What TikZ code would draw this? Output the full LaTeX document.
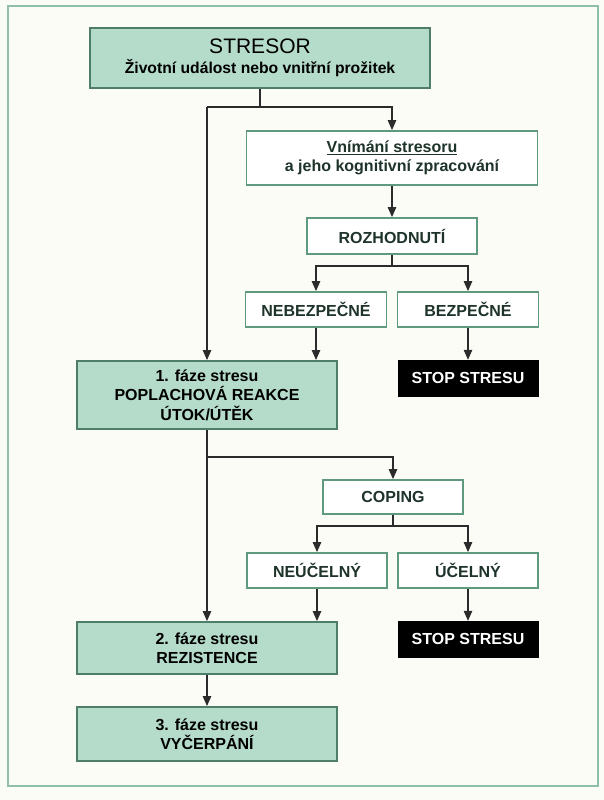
\documentclass[tikz,border=0pt]{standalone}
\usepackage{fontspec}
\setmainfont{Liberation Sans}
\usetikzlibrary{arrows.meta}

\definecolor{bgcol}{HTML}{FCFCF7}
\definecolor{framecol}{HTML}{8FBFA8}
\definecolor{greenfill}{HTML}{B5DCCB}
\definecolor{greendraw}{HTML}{4E7D68}
\definecolor{whitedraw}{HTML}{5F9A7E}
\definecolor{textgreen}{HTML}{1E3329}
\definecolor{linecol}{HTML}{2B2B2B}

\begin{document}
\begin{tikzpicture}[x=1pt, y=-1pt]
    \tikzset{
        box/.style={
            rectangle, inner sep=0pt, align=center,
            font=\fontsize{16}{19.5}\selectfont\bfseries,
        },
        greenbox/.style={box, fill=greenfill, draw=greendraw, line width=2pt},
        whitebox/.style={box, fill=white, draw=whitedraw, line width=1.8pt, text=textgreen},
        blackbox/.style={box, fill=black, draw=black, text=white},
        myarrow/.style={
            draw=linecol, line width=1.2pt,
            -{Triangle[width=8.5pt, length=10pt]},
        },
        myline/.style={draw=linecol, line width=1.2pt},
    }

    \useasboundingbox (0,0) rectangle (604,800);
    \fill[bgcol] (0,0) rectangle (604,800);
    \draw[framecol, line width=2pt] (8,6) rectangle (598,786);

    % Boxes
    \node[greenbox, minimum width=340pt, minimum height=60pt] (stresor) at (260,58)
        {{\fontsize{21}{23}\selectfont\mdseries STRESOR}\\[1pt]
         {\fontsize{15.7}{18}\selectfont Životní událost nebo vnitřní prožitek}};
    \node[whitebox, minimum width=291pt, minimum height=54pt] (vnimani) at (392,158)
        {\underline{Vnímání stresoru}\\ a jeho kognitivní zpracování};
    \node[whitebox, minimum width=170pt, minimum height=36pt] (rozhod) at (392,236) {ROZHODNUTÍ};
    \node[whitebox, minimum width=141pt, minimum height=35pt] (neb) at (316,309.5) {NEBEZPEČNÉ};
    \node[whitebox, minimum width=141pt, minimum height=35pt] (bez) at (468,309.5) {BEZPEČNÉ};
    \node[greenbox, minimum width=260pt, minimum height=68pt] (faze1) at (207,395)
        {1. fáze stresu\\ POPLACHOVÁ REAKCE\\ ÚTOK/ÚTĚK};
    \node[blackbox, minimum width=140pt, minimum height=36pt] (stop1) at (468,378) {STOP STRESU};
    \node[whitebox, minimum width=140pt, minimum height=34pt] (coping) at (393,497) {COPING};
    \node[whitebox, minimum width=140pt, minimum height=35pt] (neuc) at (317,570.5) {NEÚČELNÝ};
    \node[whitebox, minimum width=140pt, minimum height=35pt] (uc) at (468,570.5) {ÚČELNÝ};
    \node[greenbox, minimum width=260pt, minimum height=52pt] (faze2) at (207,648)
        {2. fáze stresu\\ REZISTENCE};
    \node[blackbox, minimum width=140pt, minimum height=36pt] (stop2) at (468,639) {STOP STRESU};
    \node[greenbox, minimum width=260pt, minimum height=54pt] (faze3) at (207,734)
        {3. fáze stresu\\ VYČERPÁNÍ};

    % Junctions
    \coordinate (j1) at (0,107);
    \coordinate (j2) at (0,266);
    \coordinate (j3) at (0,457);
    \coordinate (j4) at (0,526);

    % Connectors
    \draw[myline] (stresor.south) -- (stresor.south |- j1);
    \draw[myarrow] (faze1.north |- j1) -| (vnimani.north);
    \draw[myarrow] (faze1.north |- j1) -- (faze1.north);
    \draw[myarrow] (vnimani.south) -- (rozhod.north);

    \draw[myline] (rozhod.south) -- (rozhod.south |- j2);
    \draw[myarrow] (rozhod.south |- j2) -| (neb.north);
    \draw[myarrow] (rozhod.south |- j2) -| (bez.north);
    \draw[myarrow] (neb.south) -- (neb.south |- faze1.north);
    \draw[myarrow] (bez.south) -- (stop1.north);

    \draw[myarrow] (faze1.south |- j3) -| (coping.north);
    \draw[myarrow] (faze1.south) -- (faze2.north);
    \draw[myline] (coping.south) -- (coping.south |- j4);
    \draw[myarrow] (coping.south |- j4) -| (neuc.north);
    \draw[myarrow] (coping.south |- j4) -| (uc.north);
    \draw[myarrow] (neuc.south) -- (neuc.south |- faze2.north);
    \draw[myarrow] (uc.south) -- (stop2.north);
    \draw[myarrow] (faze2.south) -- (faze3.north);
\end{tikzpicture}
\end{document}
